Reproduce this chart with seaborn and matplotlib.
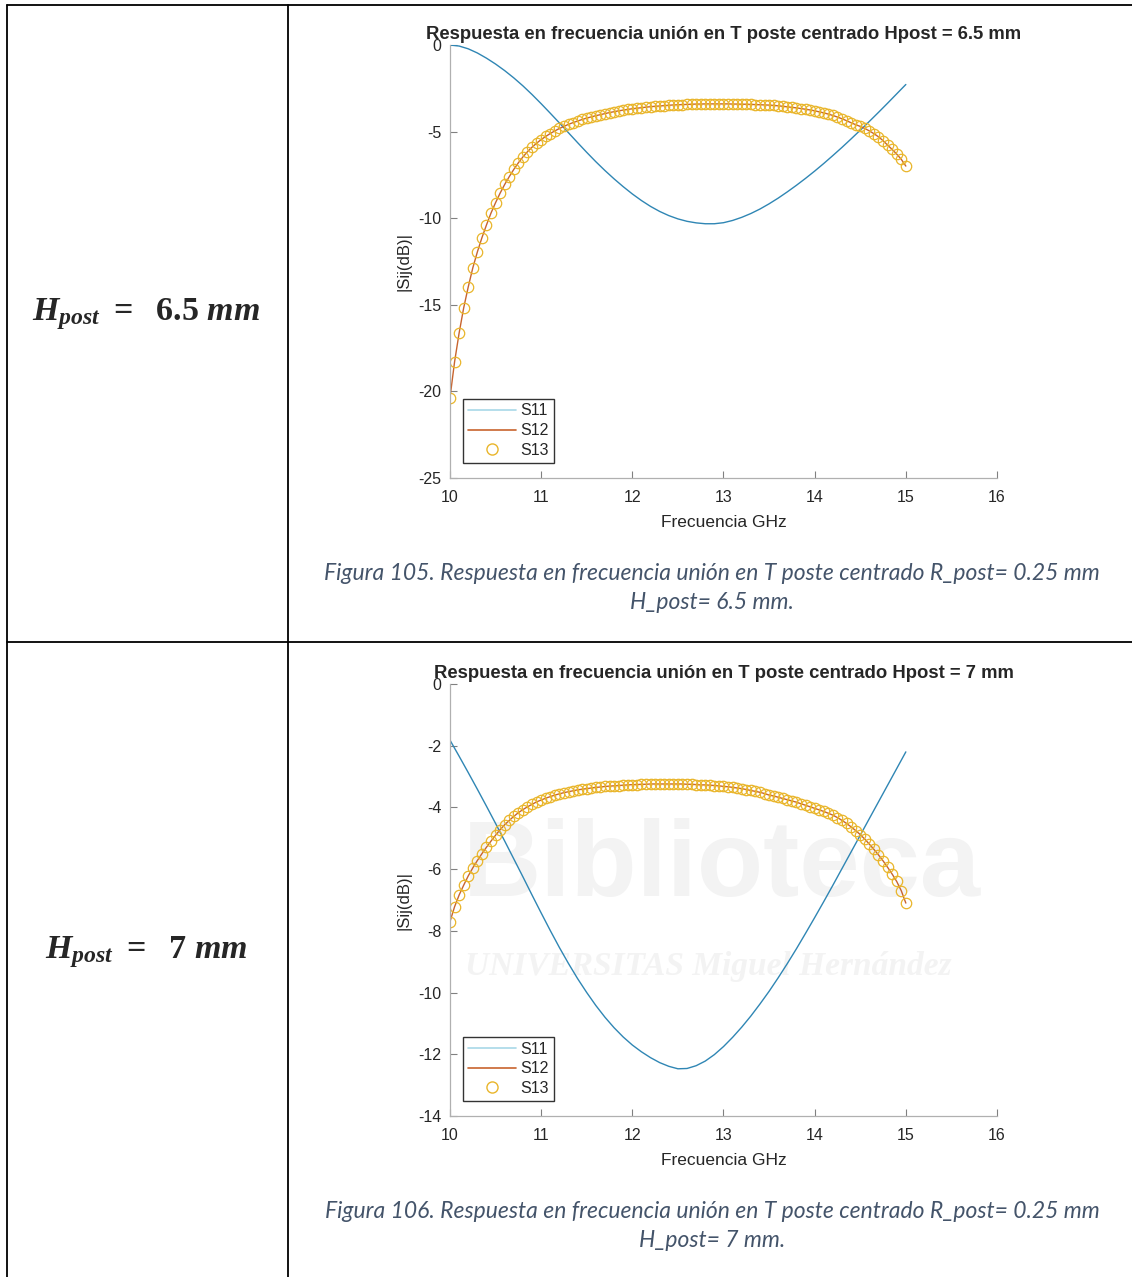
import numpy as np
import pandas as pd
import matplotlib
matplotlib.use("Agg")
import matplotlib.pyplot as plt
import seaborn as sns
from matplotlib.lines import Line2D

# Frequency grids (GHz)
freq_s11 = np.round(np.linspace(10, 15, 51), 2)
freq_s12 = np.round(np.linspace(10, 15, 101), 2)

# Hpost = 6.5 mm
s11_a = [0.00, -0.06, -0.22, -0.46, -0.76, -1.10, -1.48, -1.90, -2.36, -2.86,
         -3.39, -3.94, -4.50, -5.07, -5.64, -6.20, -6.74, -7.25, -7.73, -8.18,
         -8.60, -8.98, -9.32, -9.61, -9.85, -10.04, -10.18, -10.27, -10.32, -10.32,
         -10.26, -10.13, -9.95, -9.73, -9.47, -9.17, -8.84, -8.48, -8.10, -7.70,
         -7.28, -6.84, -6.38, -5.91, -5.42, -4.92, -4.41, -3.89, -3.36, -2.82,
         -2.28]
s12_a = [-20.36, -18.30, -16.63, -15.18, -13.97, -12.87, -11.95, -11.13, -10.39, -9.70,
         -9.10, -8.55, -8.05, -7.60, -7.18, -6.80, -6.46, -6.16, -5.90, -5.67,
         -5.46, -5.28, -5.11, -4.96, -4.82, -4.70, -4.58, -4.48, -4.39, -4.30,
         -4.22, -4.15, -4.08, -4.02, -3.96, -3.90, -3.85, -3.80, -3.76, -3.72,
         -3.68, -3.65, -3.62, -3.59, -3.56, -3.54, -3.52, -3.50, -3.48, -3.46,
         -3.45, -3.44, -3.43, -3.42, -3.41, -3.41, -3.40, -3.40, -3.40, -3.40,
         -3.40, -3.40, -3.41, -3.41, -3.42, -3.42, -3.43, -3.44, -3.45, -3.46,
         -3.47, -3.49, -3.51, -3.54, -3.57, -3.60, -3.63, -3.67, -3.71, -3.75,
         -3.80, -3.86, -3.92, -3.99, -4.07, -4.16, -4.26, -4.37, -4.49, -4.60,
         -4.70, -4.82, -4.96, -5.12, -5.30, -5.52, -5.78, -6.03, -6.30, -6.60,
         -6.99]
s13_a = list(s12_a)  # symmetric junction: S13 equals S12

# Hpost = 7 mm
s11_b = [-1.82, -2.34, -2.87, -3.41, -3.96, -4.52, -5.09, -5.67, -6.25, -6.84,
         -7.42, -7.99, -8.54, -9.06, -9.55, -10.00, -10.42, -10.80, -11.14, -11.44,
         -11.70, -11.92, -12.11, -12.27, -12.39, -12.47, -12.46, -12.37, -12.22, -12.01,
         -11.75, -11.45, -11.12, -10.76, -10.37, -9.96, -9.52, -9.06, -8.58, -8.08,
         -7.57, -7.05, -6.52, -5.98, -5.44, -4.90, -4.36, -3.82, -3.28, -2.74,
         -2.20]
s12_b = [-7.70, -7.22, -6.84, -6.52, -6.22, -5.96, -5.72, -5.50, -5.29, -5.09,
         -4.90, -4.72, -4.56, -4.42, -4.29, -4.17, -4.07, -3.98, -3.90, -3.82,
         -3.76, -3.70, -3.65, -3.60, -3.56, -3.52, -3.49, -3.46, -3.43, -3.41,
         -3.39, -3.37, -3.35, -3.34, -3.32, -3.31, -3.30, -3.29, -3.28, -3.27,
         -3.26, -3.26, -3.25, -3.25, -3.24, -3.24, -3.24, -3.24, -3.24, -3.24,
         -3.24, -3.24, -3.25, -3.25, -3.26, -3.27, -3.27, -3.28, -3.29, -3.30,
         -3.32, -3.33, -3.35, -3.37, -3.39, -3.42, -3.45, -3.48, -3.51, -3.55,
         -3.60, -3.63, -3.67, -3.71, -3.75, -3.79, -3.83, -3.88, -3.93, -3.98,
         -4.03, -4.08, -4.13, -4.19, -4.25, -4.33, -4.42, -4.52, -4.63, -4.75,
         -4.88, -5.03, -5.19, -5.36, -5.54, -5.73, -5.94, -6.16, -6.40, -6.70,
         -7.10]
s13_b = list(s12_b)

titles = ["Respuesta en frecuencia unión en T poste centrado Hpost = 6.5 mm",
          "Respuesta en frecuencia unión en T poste centrado Hpost = 7 mm"]
row_labels = [r"$H_{post}\ =\ \ 6.5\ mm$", r"$H_{post}\ =\ \ 7\ mm$"]
captions = ["Figura 105. Respuesta en frecuencia unión en T poste centrado R_post= 0.25 mm\nH_post= 6.5 mm.",
            "Figura 106. Respuesta en frecuencia unión en T poste centrado R_post= 0.25 mm\nH_post= 7 mm."]
y_ticks = [np.arange(-25, 1, 5), np.arange(-14, 1, 2)]
x_ticks = [10, 11, 12, 13, 14, 15, 16]

sns.set_theme(style="white")
plt.rcParams["font.family"] = ["Liberation Sans", "DejaVu Sans"]
plt.rcParams["axes.unicode_minus"] = False
plt.rcParams["mathtext.fontset"] = "custom"
plt.rcParams["mathtext.it"] = "Liberation Serif:italic:bold"
plt.rcParams["mathtext.rm"] = "Liberation Serif:bold"

C11, C12, C13 = "#2f86b4", "#c8642e", "#e9b52a"

W, H = 1132, 1277
fig = plt.figure(figsize=(W / 100, H / 100), dpi=100)

def fx(px):
    return px / W

def fy(py):
    return 1 - py / H

# table lines
tbl = dict(color="black", lw=1.3, transform=fig.transFigure)
fig.add_artist(Line2D([fx(7), fx(7)], [0, fy(5)], **tbl))
fig.add_artist(Line2D([fx(288), fx(288)], [0, fy(5)], **tbl))
fig.add_artist(Line2D([fx(7), 1], [fy(5), fy(5)], **tbl))
fig.add_artist(Line2D([fx(7), 1], [fy(642), fy(642)], **tbl))

# faint watermark
fig.text(fx(722), fy(868), "Biblioteca", fontsize=78, color="#f3f3f3",
         ha="center", va="center", fontweight="bold", zorder=-5)
fig.text(fx(708), fy(966), "UNIVERSITAS Miguel Hernández", fontsize=24, color="#f3f3f3",
         ha="center", va="center", fontweight="bold", fontstyle="italic",
         family="Liberation Serif", zorder=-5)

panels = [
    (45, 478, 0, s11_a, s12_a, s13_a, (-25, 0)),
    (684, 1116, 1, s11_b, s12_b, s13_b, (-14, 0)),
]

for top, bot, i, s11, s12, s13, ylim in panels:
    ax = fig.add_axes([fx(450), fy(bot), fx(997) - fx(450), (bot - top) / H])
    ax.set_facecolor("none")
    df11 = pd.DataFrame({"f": freq_s11, "v": s11})
    df12 = pd.DataFrame({"f": freq_s12, "v": s12})
    df13 = pd.DataFrame({"f": freq_s12, "v": s13})
    sns.lineplot(data=df11, x="f", y="v", ax=ax, color=C11, lw=1.0, legend=False)
    sns.lineplot(data=df12, x="f", y="v", ax=ax, color=C12, lw=1.0, legend=False)
    sns.lineplot(data=df13, x="f", y="v", ax=ax, color=C13, lw=0, marker="o",
                 markersize=7.5, markerfacecolor="none", markeredgecolor=C13,
                 markeredgewidth=0.9, legend=False)
    ax.set_xlim(10, 16)
    ax.set_ylim(*ylim)
    ax.set_xticks(x_ticks)
    ax.set_yticks(y_ticks[i])
    ax.set_title(titles[i], fontsize=13.3, fontweight="bold", pad=4)
    ax.set_xlabel("Frecuencia GHz", fontsize=12.5, color="#262626", labelpad=7)
    ax.set_ylabel("|Sij(dB)|", fontsize=12, color="#262626", labelpad=5)
    for s in ["top", "right"]:
        ax.spines[s].set_visible(False)
    for s in ["left", "bottom"]:
        ax.spines[s].set_color("#b0b0b0")
        ax.spines[s].set_linewidth(0.9)
    ax.tick_params(direction="in", length=5, width=0.8, color="#808080",
                   labelsize=11.5, labelcolor="#262626", bottom=True, left=True)
    ax.tick_params(axis="x", pad=9)
    ax.tick_params(axis="y", pad=6)
    handles = [Line2D([], [], color="#a8d8e8", lw=1.2),
               Line2D([], [], color="#c8642e", lw=1.2),
               Line2D([], [], color=C13, lw=0, marker="o", markersize=8,
                      markerfacecolor="none", markeredgewidth=1.0)]
    leg = ax.legend(handles, ["S11", "S12", "S13"], loc="lower left",
                    bbox_to_anchor=(0.024, 0.035), fontsize=11.5, frameon=True,
                    fancybox=False, handlelength=3.0, borderpad=0.3,
                    labelspacing=0.3, handletextpad=0.3, borderaxespad=0)
    leg.get_frame().set_edgecolor("black")
    leg.get_frame().set_linewidth(1.0)

    # row label and caption
    ymid = 314 if i == 0 else 952
    fig.text(fx(146), fy(ymid), row_labels[i], fontsize=24.5, ha="center", va="center")
    ycap = 588 if i == 0 else 1226
    fig.text(fx(712), fy(ycap), captions[i], fontsize=16.5, color="#44546a",
             family="Lato", fontstyle="italic", ha="center", va="center",
             linespacing=1.45)

fig.savefig("out.png", dpi=100)
